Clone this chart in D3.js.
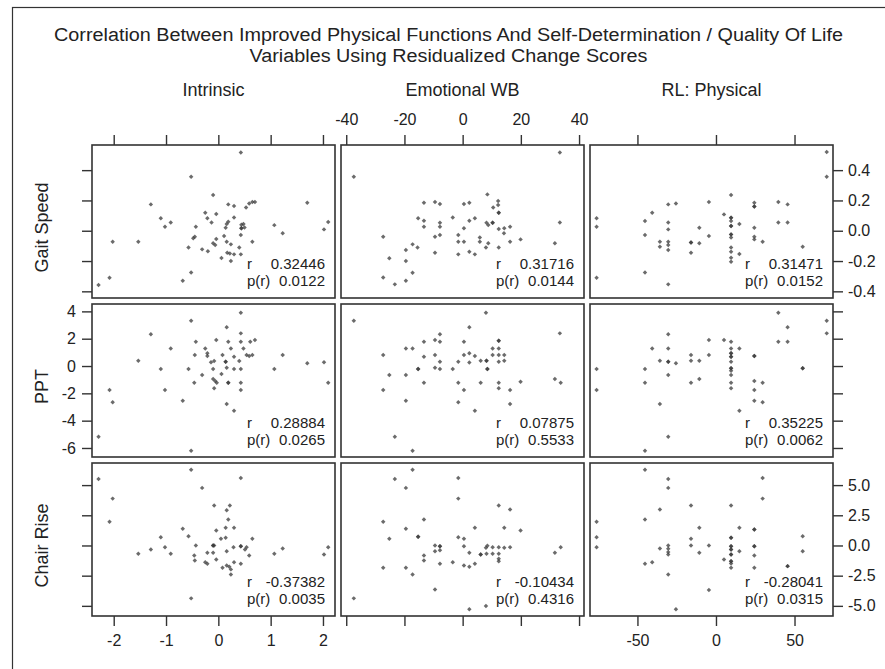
<!DOCTYPE html>
<html lang="en">
<head>
  <meta charset="UTF-8">
  <title>scatter matrix</title>
  <script src="https://cdn.jsdelivr.net/npm/d3@7"></script>
  <style>
    body { margin: 0; background: #fff; }
    text { font-family: Arial, "Liberation Sans", sans-serif; fill: #222; }
  </style>
</head>
<body>
  <svg width="885" height="669"></svg>
  <script>
    var titleLines = ['Correlation Between Improved Physical Functions And Self-Determination / Quality Of Life',
      'Variables Using Residualized Change Scores']
    var colNames = ['Intrinsic', 'Emotional WB', 'RL: Physical']
    var rowNames = ['Gait Speed', 'PPT', 'Chair Rise']

    // axis extents
    var xDomains = [[-2.415, 2.23], [-41.8, 41.7], [-80.2, 74.5]]
    var yDomains = [[-0.444, 0.566], [-6.66, 4.54], [-5.84, 6.83]]
    var xTicks = [[-2, -1, 0, 1, 2], [-40, -20, 0, 20, 40], [-50, 0, 50]]
    var yTicks = [[0.4, 0.2, 0, -0.2, -0.4], [4, 2, 0, -2, -4, -6], [5, 2.5, 0, -2.5, -5]]

    // r and p(r), row by row
    var rValues = [['0.32446', '0.31716', '0.31471'], ['0.28884', '0.07875', '0.35225'], ['-0.37382', '-0.10434', '-0.28041']]
    var pValues = [['0.0122', '0.0144', '0.0152'], ['0.0265', '0.5533', '0.0062'], ['0.0035', '0.4316', '0.0315']]

    var gaitIntrinsic = [[0.43,0.517],[-0.52,0.356],[-0.10,0.236],[-1.29,0.174],[0.19,0.174],[0.30,0.163],[0.53,0.154],[0.59,0.18],[0.65,0.19],[0.70,0.19],[1.70,0.185],[-0.25,0.119],[-0.04,0.11],[-1.10,0.082],[-0.21,0.082],[0.30,0.088],[-0.91,0.055],[-0.13,0.055],[0.19,0.06],[0.16,0.044],[-1.02,0.026],[-0.43,0.026],[0.14,0.02],[0.44,0.04],[0.48,0.045],[0.50,0.022],[0.44,0.016],[0.44,0.016],[1.07,0.037],[2.10,0.057],[2.02,0.009],[1.23,-0.017],[-0.45,-0.04],[-0.48,-0.05],[0.11,-0.035],[0.43,-0.028],[-0.04,-0.055],[-2.02,-0.072],[-1.53,-0.072],[-0.10,-0.083],[-0.06,-0.094],[0.16,-0.072],[0.24,-0.09],[0.65,-0.072],[-0.57,-0.11],[0.40,-0.11],[-0.31,-0.123],[-0.20,-0.136],[0.17,-0.145],[0.22,-0.15],[0.30,-0.156],[0.43,-0.156],[0.06,-0.18],[0.24,-0.2],[-0.52,-0.275],[-0.68,-0.33],[-2.08,-0.31],[-2.29,-0.358]]
    var gaitEmotional = [[33.4,0.517],[-37.4,0.356],[8.5,0.24],[-13.3,0.185],[-9.5,0.19],[-7.8,0.176],[0.45,0.176],[2.3,0.185],[12.2,0.196],[12.2,0.17],[10.5,0.154],[12.4,0.119],[12.4,0.119],[-15.3,0.082],[-13.3,0.066],[-13.3,0.026],[-7.8,0.053],[-7.8,0.026],[-3.4,0.088],[2.3,0.066],[4.2,0.082],[8.2,0.053],[8.8,0.038],[10.3,0.053],[10.3,0.053],[0.45,0.016],[33.4,0.055],[12.4,0.011],[14.3,0.016],[16.3,0.026],[14.2,-0.017],[-27.3,-0.04],[-9.5,-0.04],[-7.8,-0.028],[-1.5,-0.028],[5.9,-0.044],[-1.5,-0.072],[0.45,-0.072],[5.9,-0.072],[8.8,-0.083],[16.3,-0.072],[19.9,-0.057],[31.7,-0.083],[-17.2,-0.09],[-15.5,-0.11],[8.0,-0.11],[12.4,-0.11],[-19.5,-0.127],[-9.5,-0.145],[-1.5,-0.156],[2.3,-0.139],[4.2,-0.156],[-25.2,-0.182],[-19.5,-0.2],[-17.2,-0.277],[-27.3,-0.308],[-19.5,-0.33],[-23.3,-0.354]]
    var gaitPhysical = [[70.5,0.52],[70.5,0.356],[9.6,0.236],[-30.4,0.174],[-25.5,0.18],[-4.5,0.19],[24.4,0.185],[24.4,0.16],[24.4,0.16],[39.7,0.19],[45.6,0.174],[-40.6,0.119],[5.1,0.108],[9.6,0.086],[9.6,0.086],[9.6,0.064],[-76,0.082],[-76,0.026],[-45.2,0.064],[-30.4,0.055],[-30.4,0.009],[-10.6,0.02],[14.9,0.044],[9.6,0.031],[9.6,0.031],[24.4,0.02],[39.7,0.055],[45.6,0.055],[-45.2,-0.028],[-4.5,-0.035],[9.6,-0.024],[9.6,-0.024],[9.6,-0.044],[24.4,-0.04],[24.4,-0.057],[29.7,-0.072],[-35.7,-0.072],[-35.7,-0.105],[-30.4,-0.072],[-30.4,-0.094],[-30.4,-0.127],[-15.9,-0.077],[-15.9,-0.077],[-10.6,-0.083],[-15.9,-0.145],[9.6,-0.11],[9.6,-0.139],[14.9,-0.154],[9.6,-0.178],[9.6,-0.205],[55.2,-0.105],[-76,-0.31],[-45.2,-0.275],[-30.4,-0.354]]

    var pptIntrinsic = [[0.43,3.9],[-0.52,3.31],[0.16,2.83],[-1.29,2.32],[0.43,2.39],[-0.91,1.29],[-0.43,1.78],[-0.04,1.9],[0.19,1.78],[0.43,1.78],[0.61,1.78],[0.70,1.9],[-0.25,1.29],[0.24,1.29],[0.48,1.29],[-0.21,0.93],[-0.21,0.73],[-0.45,0.8],[0.08,0.8],[0.30,0.68],[0.54,0.8],[0.59,0.73],[0.65,0.8],[1.23,0.8],[-1.53,0.39],[-0.14,0.27],[-0.08,0.37],[0.14,0.32],[0.14,0.32],[0.40,0.37],[1.70,0.2],[2.02,0.27],[-1.10,-0.22],[-0.57,-0.22],[-0.10,-0.22],[0.16,-0.12],[0.30,-0.22],[0.43,-0.22],[1.07,-0.22],[-0.31,-0.66],[0.06,-0.59],[-0.10,-0.95],[-0.06,-1.1],[-0.03,-1.22],[-0.46,-1.22],[0.19,-1.22],[0.19,-1.22],[0.43,-1.22],[2.10,-1.22],[-2.08,-1.76],[-1.02,-1.76],[-0.08,-1.63],[0.43,-1.76],[-2.02,-2.66],[-0.68,-2.54],[0.16,-2.78],[0.30,-3.27],[-2.29,-5.17],[-0.52,-6.2]]
    var pptEmotional = [[-37.4,3.31],[8.0,3.9],[2.3,2.83],[33.4,2.39],[-7.8,2.32],[-9.5,1.9],[-7.8,1.78],[-13.3,1.78],[0.45,1.78],[12.4,1.85],[12.4,1.85],[-19.5,1.29],[-17.2,1.29],[10.3,1.29],[12.4,1.29],[-27.3,0.8],[-13.3,0.68],[-9.5,0.8],[0.45,0.8],[2.3,0.93],[4.2,0.73],[10.3,0.8],[12.4,0.8],[14.3,0.8],[-7.8,0.32],[-1.5,0.32],[2.3,0.25],[6.2,0.39],[8.2,0.39],[8.2,0.39],[12.4,0.32],[14.3,0.39],[-15.3,-0.22],[-15.3,-0.22],[-9.5,-0.12],[-7.8,-0.22],[-3.4,-0.22],[8.5,-0.22],[8.5,-0.22],[-25.2,-0.66],[-19.5,-0.66],[-13.3,-1.22],[-1.5,-1.22],[6.2,-1.22],[12.4,-1.22],[19.9,-1.15],[31.7,-0.95],[33.7,-1.22],[-27.3,-1.76],[0.45,-1.76],[12.4,-1.63],[16.3,-1.76],[-19.5,-2.54],[-1.5,-2.66],[16.3,-2.78],[4.2,-3.27],[-23.3,-5.17],[-17.2,-6.2]]
    var pptPhysical = [[39.7,3.9],[70.5,3.31],[45.6,2.83],[70.5,2.39],[-30.4,2.32],[-4.5,1.9],[5.1,1.9],[9.6,1.78],[39.7,1.78],[45.6,1.78],[-40.6,1.29],[-30.4,1.29],[9.6,1.29],[14.9,1.29],[-15.9,0.8],[-4.5,0.8],[9.6,0.93],[9.6,0.93],[9.6,0.68],[9.6,0.68],[24.4,0.73],[24.4,0.73],[-35.7,0.39],[-30.4,0.32],[-30.4,0.32],[-25.5,0.2],[-15.9,0.39],[-10.6,0.39],[9.6,0.32],[-76,-0.22],[-45.2,-0.22],[9.6,-0.17],[9.6,-0.17],[9.6,-0.34],[55.2,-0.17],[55.2,-0.17],[-30.4,-0.66],[9.6,-0.66],[-45.2,-1.22],[-15.9,-1.22],[-10.6,-0.95],[9.6,-1.22],[24.4,-1.1],[29.7,-1.22],[-76,-1.76],[9.6,-1.63],[24.4,-1.76],[-35.7,-2.78],[24.4,-2.54],[29.7,-2.66],[14.9,-3.27],[-30.4,-5.17],[-45.2,-6.2]]

    var chairIntrinsic = [[-0.52,6.28],[-2.29,5.51],[0.43,5.59],[-0.31,4.77],[-2.02,3.88],[-0.08,3.31],[0.22,3.31],[0.16,2.92],[-2.08,1.96],[0.19,2.15],[-0.68,1.38],[-0.04,1.24],[0.14,1.46],[0.30,1.46],[-1.10,0.69],[-0.57,0.77],[0.05,0.55],[0.14,0.64],[0.65,0.55],[-1.29,-0.33],[-1.02,-0.14],[-0.43,0.0],[-0.10,0.0],[-0.10,0.0],[-0.08,0.0],[0.29,-0.14],[0.43,-0.06],[0.43,-0.06],[0.54,-0.14],[0.51,-0.33],[1.23,-0.25],[2.10,-0.14],[-1.53,-0.69],[-0.91,-0.69],[-0.21,-0.61],[-0.10,-0.61],[0.16,-0.47],[0.59,-0.83],[1.07,-0.69],[2.02,-0.74],[-0.46,-0.83],[-0.45,-1.24],[-0.04,-1.16],[-0.25,-1.38],[-0.21,-1.52],[0.30,-1.38],[0.43,-1.52],[0.08,-1.85],[0.16,-1.65],[0.21,-1.76],[0.24,-1.98],[0.24,-2.4],[-0.52,-4.38]]
    var chairEmotional = [[-17.2,6.28],[-23.3,5.51],[-1.5,5.59],[-19.5,4.77],[-1.5,3.88],[12.4,3.31],[16.3,2.98],[-27.3,1.96],[-13.3,2.15],[-19.5,1.38],[4.2,1.46],[14.3,1.46],[19.9,1.24],[-25.2,0.55],[-15.3,0.72],[-15.3,0.72],[-1.5,0.69],[0.45,0.55],[-9.5,0.0],[-7.8,-0.06],[-7.8,-0.06],[-9.5,-0.47],[-7.8,-0.39],[0.45,-0.06],[2.3,-0.61],[8.0,-0.19],[8.5,-0.03],[10.3,-0.14],[12.4,-0.14],[14.3,-0.19],[16.3,-0.14],[8.2,-0.69],[10.3,-0.69],[12.4,-0.69],[12.4,-1.1],[12.4,-1.3],[6.2,-0.74],[6.2,-0.74],[-13.3,-0.83],[-13.3,-1.24],[-7.8,-1.52],[-3.4,-1.38],[0.45,-1.65],[2.3,-1.76],[4.2,-1.52],[-27.3,-1.85],[-19.5,-1.85],[-17.2,-2.4],[31.7,-0.61],[33.7,-0.14],[-9.5,-3.64],[-37.4,-4.38],[2.3,-5.29],[8.0,-5.01]]
    var chairPhysical = [[-45.2,6.28],[-30.4,5.51],[29.7,5.59],[-30.4,4.77],[29.7,3.88],[-15.9,3.31],[9.6,3.31],[-35.7,2.98],[-45.2,2.15],[-76,1.96],[-10.6,1.46],[14.9,1.46],[24.4,1.32],[24.4,1.32],[-76,0.69],[-15.9,0.55],[9.6,0.64],[9.6,0.64],[55.2,0.77],[-76,-0.14],[-30.4,0.0],[-35.7,-0.25],[-30.4,-0.28],[-30.4,-0.55],[-30.4,-0.74],[-15.9,0.0],[-4.5,0.0],[9.6,-0.06],[9.6,-0.06],[9.6,-0.33],[9.6,-0.33],[24.4,-0.06],[24.4,-0.06],[-10.6,-0.61],[14.9,-0.47],[55.2,-0.47],[9.6,-0.74],[9.6,-0.74],[24.4,-0.83],[5.1,-1.16],[9.6,-1.3],[9.6,-1.3],[9.6,-1.49],[-45.2,-1.52],[-40.6,-1.38],[9.6,-1.85],[24.4,-1.85],[45.6,-1.71],[45.6,-1.71],[-30.4,-2.4],[-4.5,-3.69],[-25.5,-5.29]]

    var panelPoints = [
      [gaitIntrinsic, gaitEmotional, gaitPhysical],
      [pptIntrinsic, pptEmotional, pptPhysical],
      [chairIntrinsic, chairEmotional, chairPhysical]
    ]

    var svg = d3.select('svg')
    var gridLeft = 92, gridTop = 145, panelW = 243, panelH = 153, gap = 6

    var xScales = xDomains.map((dom, i) => {
      let x0 = gridLeft + i * (panelW + gap)
      return d3.scaleLinear().domain(dom).range([x0, x0 + panelW])
    })
    var yScales = yDomains.map((dom, j) => {
      let y0 = gridTop + j * (panelH + gap)
      return d3.scaleLinear().domain(dom).range([y0 + panelH, y0])
    })
    var intFmt = d => String(d)
    var decFmt = d => d.toFixed(1)
    var yFormats = [decFmt, intFmt, decFmt]

    // outer frame
    svg.append('rect')
      .attr('x', 12.5).attr('y', 7.5)
      .attr('width', 900).attr('height', 700)
      .attr('fill', 'none').attr('stroke', '#333').attr('stroke-width', 1.2)

    // title font in the picture is a touch wider than Arial
    svg.append('g')
      .selectAll('text')
      .data(titleLines)
      .enter()
      .append('text')
      .attr('transform', (d, i) => `translate(448.5,${40.5 + i * 21}) scale(1.065,1)`)
      .attr('text-anchor', 'middle')
      .attr('font-size', 18.6)
      .text(d => d)

    svg.append('g')
      .selectAll('text')
      .data(colNames)
      .enter()
      .append('text')
      .attr('x', (d, i) => d3.mean(xScales[i].range()))
      .attr('y', 96)
      .attr('text-anchor', 'middle')
      .attr('font-size', 18)
      .text(d => d)

    svg.append('g')
      .selectAll('text')
      .data(rowNames)
      .enter()
      .append('text')
      .attr('transform', (d, j) => `translate(48,${d3.mean(yScales[j].range()) + 6}) rotate(-90)`)
      .attr('text-anchor', 'middle')
      .attr('font-size', 18)
      .text(d => d)

    function styleAxis(g) {
      g.select('.domain').remove()
      g.attr('font-size', 16).attr('font-family', 'Arial, "Liberation Sans", sans-serif')
      g.selectAll('.tick line').attr('stroke', '#333').attr('stroke-width', 1.4)
      g.selectAll('.tick text').attr('fill', '#222')
    }

    // top and bottom axes, labels alternate between columns
    xScales.forEach((x, i) => {
      let topAxis = d3.axisTop(x).tickValues(xTicks[i]).tickSize(10).tickPadding(10)
        .tickFormat(i === 1 ? intFmt : '')
      svg.append('g').attr('transform', `translate(0,${gridTop})`).call(topAxis).call(styleAxis)
      let bottomAxis = d3.axisBottom(x).tickValues(xTicks[i]).tickSize(10).tickPadding(9)
        .tickFormat(i !== 1 ? intFmt : '')
      svg.append('g').attr('transform', `translate(0,${yScales[2].range()[0]})`).call(bottomAxis).call(styleAxis)
    })

    yScales.forEach((y, j) => {
      let leftAxis = d3.axisLeft(y).tickValues(yTicks[j]).tickSize(10).tickPadding(6)
        .tickFormat(j === 1 ? yFormats[j] : '')
      svg.append('g').attr('transform', `translate(${gridLeft},0)`).call(leftAxis).call(styleAxis)
      let rightAxis = d3.axisRight(y).tickValues(yTicks[j]).tickSize(10).tickPadding(5)
        .tickFormat(j !== 1 ? yFormats[j] : '')
      svg.append('g').attr('transform', `translate(${xScales[2].range()[1]},0)`).call(rightAxis).call(styleAxis)
    })

    // small square turned 45deg, like the reference markers
    var marker = d3.symbol().type(d3.symbolSquare).size(10)

    panelPoints.forEach((row, j) => {
      row.forEach((pts, i) => {
        let x = xScales[i], y = yScales[j]
        let g = svg.append('g')
        let [x0, x1] = x.range()
        let [y1, y0] = y.range()

        g.selectAll('path')
          .data(pts)
          .enter()
          .append('path')
          .attr('d', marker)
          .attr('transform', d => `translate(${x(d[0])},${y(d[1])}) rotate(45)`)
          .attr('fill', '#3a3a3a')
          .attr('fill-opacity', 0.75)

        g.append('rect')
          .attr('x', x0).attr('y', y0)
          .attr('width', x1 - x0).attr('height', y1 - y0)
          .attr('fill', 'none').attr('stroke', '#333').attr('stroke-width', 1.6)

        g.append('text').attr('x', x0 + 155).attr('y', y1 - 29.5).attr('font-size', 15).text('r')
        g.append('text').attr('x', x0 + 155).attr('y', y1 - 11.7).attr('font-size', 15).text('p(r)')
        g.append('text').attr('x', x1 - 10).attr('y', y1 - 29.5).attr('font-size', 15)
          .attr('text-anchor', 'end').text(rValues[j][i])
        g.append('text').attr('x', x1 - 10).attr('y', y1 - 11.7).attr('font-size', 15)
          .attr('text-anchor', 'end').text(pValues[j][i])
      })
    })
  </script>
</body>
</html>
